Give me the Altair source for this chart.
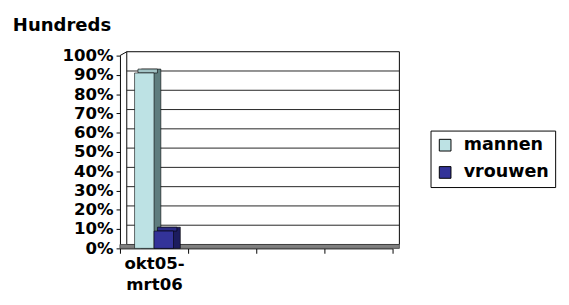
import altair as alt
import pandas as pd

# ---- data ----
categories = ["okt05-mrt06", "", " ", "  "]
series = ["mannen", "vrouwen"]
values_first = [0.91, 0.09]     # share, first category only
y_ticks = [0, 0.1, 0.2, 0.3, 0.4, 0.5, 0.6, 0.7, 0.8, 0.9, 1.0]

# ---- styles ----
front_colors = ["#BDE2E4", "#333399"]
side_colors = ["#5E7D7E", "#1C1C5E"]
top_colors = ["#A3C4C6", "#2B2B85"]
bar_offsets = [-10, 10]
BAR_W = 20
DX, DY = 7, -4
FONT = "DejaVu Sans"
W, H = 280, 198

df = pd.DataFrame({"cat": [categories[0]] * len(series), "series": series, "pct": values_first})
grid_df = pd.DataFrame({"v": y_ticks[1:-1]})
one = pd.DataFrame({"k": [0]})

x_scale = alt.Scale(domain=categories, paddingInner=0, paddingOuter=0)
y_scale = alt.Scale(domain=[0, 1], nice=False)
color_scale = alt.Scale(domain=series, range=front_colors)

x_axis = alt.Axis(
    title=None, grid=False, domain=True, domainColor="black", ticks=True, tickSize=5,
    tickColor="black", tickBand="extent", labelAngle=0, labelFont=FONT, labelFontWeight="bold",
    labelFontSize=17, labelColor="black", labelPadding=3, labelLineHeight=21,
    labelExpr="indexof(datum.label,'-') > 0 ? [slice(datum.label,0,indexof(datum.label,'-')+1), slice(datum.label,indexof(datum.label,'-')+1)] : ''",
)
y_axis = alt.Axis(
    title=None, grid=False, values=y_ticks, format=".0%", domainColor="black",
    tickColor="black", tickSize=4, labelFont=FONT, labelFontWeight="bold", labelFontSize=17,
    labelColor="black", labelPadding=3,
)
legend = alt.Legend(
    title=None, orient="none", legendX=319, legendY=77, symbolType="square", symbolSize=144,
    symbolStrokeColor="black", symbolStrokeWidth=1, symbolOpacity=1, labelFont=FONT,
    labelFontWeight="bold", labelFontSize=18, labelColor="black", fillColor="white",
    strokeColor="black", padding=6, rowPadding=10, labelOffset=10,
)

X = alt.X("cat:N", scale=x_scale, axis=x_axis)


def Y(field):
    return alt.Y(field, scale=y_scale, axis=y_axis, stack=None)


wall = alt.Chart(one).mark_rect(fill="white", stroke="black", strokeWidth=1).encode(
    x=alt.value(DX), x2=alt.value(W + DX), y=alt.value(DY), y2=alt.value(H + DY),
)
grid = alt.Chart(grid_df).mark_rule(color="#222222", strokeWidth=1, yOffset=DY).encode(
    y=Y("v:Q"), x=alt.value(DX), x2=alt.value(W + DX),
)
floor = alt.Chart(one).mark_rect(fill="#808080", stroke="#404040", strokeWidth=0.8).encode(
    x=alt.value(0), x2=alt.value(W + DX), y=alt.value(H + DY), y2=alt.value(H),
)
corner = alt.Chart(one).mark_rule(color="black", strokeWidth=1).encode(
    x=alt.value(0), x2=alt.value(DX), y=alt.value(0), y2=alt.value(DY),
)

layers = [wall, grid, floor, corner]
for i, s in enumerate(series):
    b = alt.Chart(df).transform_filter(alt.datum.series == s)
    off = bar_offsets[i]
    side = b.mark_bar(width=BAR_W, xOffset=off + DX, yOffset=DY, y2Offset=DY,
                      fill=side_colors[i], stroke="black", strokeWidth=0.6).encode(
        x=X, y=Y("pct:Q"),
    )
    top = b.mark_bar(width=BAR_W, xOffset=off + DX / 2, yOffset=DY,
                     fill=top_colors[i], stroke="black", strokeWidth=0.6).encode(
        x=X, y=Y("pct:Q"), y2=alt.Y2("pct:Q"),
    )
    front = b.mark_bar(width=BAR_W, xOffset=off, stroke="black", strokeWidth=0.6).encode(
        x=X, y=Y("pct:Q"),
        color=alt.Color("series:N", scale=color_scale, legend=legend),
    )
    layers += [side, top, front]

chart = alt.layer(*layers).properties(
    width=W, height=H,
    title=alt.TitleParams("Hundreds", anchor="start", frame="group", font=FONT, fontWeight="bold",
                          fontSize=18.5, color="black", dx=-110, offset=13),
    padding={"left": 5, "top": 4, "right": 5, "bottom": 0},
    background="white",
).configure_view(stroke=None)

chart.save("out.html", embed_options={"renderer": "svg", "actions": False})
